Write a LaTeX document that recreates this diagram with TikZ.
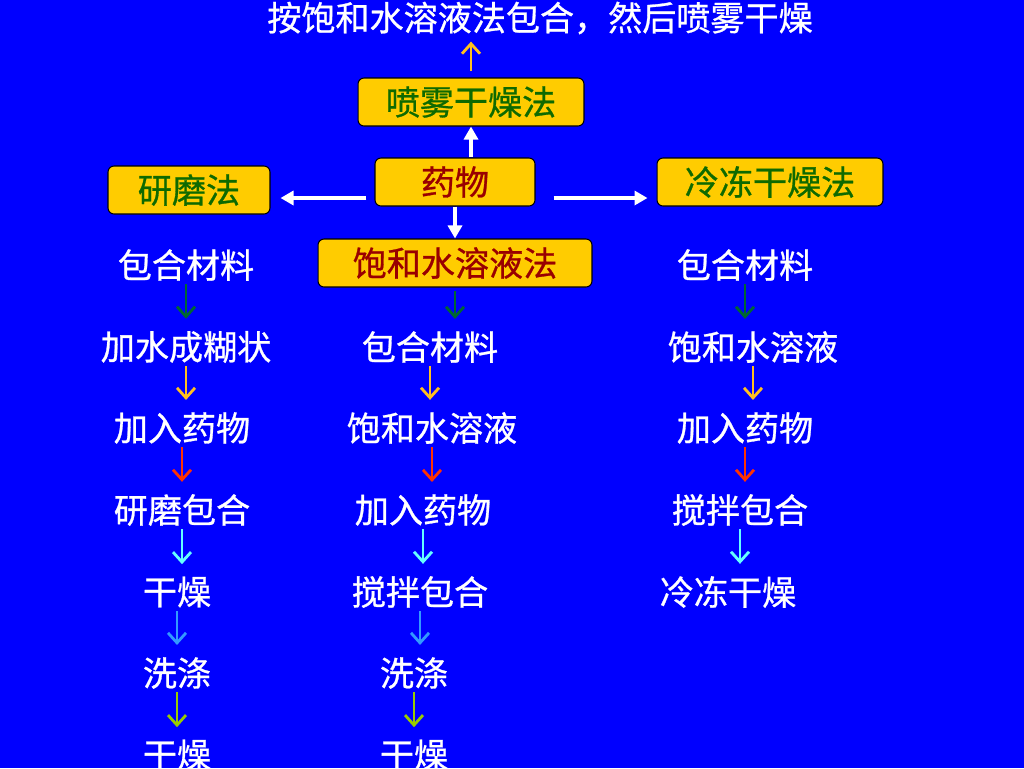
\documentclass[tikz,border=0pt]{standalone}
\usepackage{fontspec}
\setmainfont{Noto Sans CJK SC}[FakeBold=0.8]
\usepackage{xcolor}
\usepackage{tikz}
\usetikzlibrary{arrows.meta,calc}
\definecolor{slide}{HTML}{0000FF}
\definecolor{boxgold}{HTML}{FFCC00}
\definecolor{leafgreen}{HTML}{0E6A00}
\definecolor{drugred}{HTML}{990000}
\definecolor{arrgreen}{HTML}{006633}
\definecolor{arrgold}{HTML}{FFC020}
\definecolor{arrred}{HTML}{FF3300}
\definecolor{arrcyan}{HTML}{66FFFF}
\definecolor{arrblue}{HTML}{3399FF}
\definecolor{arrlime}{HTML}{99CC00}
\newcommand\flowdown[3]{\draw[flow=#1] (#2.south) -- (#2.south |- #3.north);}

\begin{document}
\begin{tikzpicture}[x=0.02cm,y=-0.02cm,every node/.style={font=\fontsize{19.4}{23}\selectfont,text=white,inner sep=0pt},box/.style={draw=black,line width=0.6pt,fill=boxgold,rounded corners=0.12cm,minimum height=0.96cm},flow/.style={draw=#1,line width=1.6pt,-{Straight Barb[length=2mm,width=3.6mm]},shorten <=0.06cm,shorten >=0.24cm},warr/.style={draw=white,line width=2.3pt,-{Triangle[length=2.6mm,width=2.8mm]}}]
\fill[slide] (0,0) rectangle (1024,768);
\useasboundingbox (0,0) rectangle (1024,768);
\node (title) at (540,18) {按饱和水溶液法包合，然后喷雾干燥};
% the four methods round the drug
\node[box,minimum width=4.52cm,text=leafgreen] (spray) at (471,102) {喷雾干燥法};
\node[box,minimum width=3.2cm,text=drugred] (drug) at (455,182) {药物};
\node[box,minimum width=3.24cm,text=leafgreen] (grind) at (189,190) {研磨法};
\node[box,minimum width=4.52cm,text=leafgreen] (freeze) at (770,182) {冷冻干燥法};
\node[box,minimum width=5.48cm,text=drugred] (sat) at (455,263) {饱和水溶液法};
\draw[flow=arrgold,shorten <=0.12cm,shorten >=0.14cm] (spray.north) -- (spray.north |- title.south);
\draw[warr] (spray.south |- drug.north) -- (spray.south);
\draw[warr] ($(drug.west)+(-8,16)$) -- ($(grind.east)+(10,8)$);
\draw[warr] ($(drug.east)+(18,16)$) -- ($(freeze.west)+(-9,16)$);
\draw[warr] (drug) -- (sat);
% grinding
\node (g1) at (186,265) {包合材料};
\node (g2) at (186,347) {加水成糊状};
\node (g3) at (182,428) {加入药物};
\node (g4) at (182,510) {研磨包合};
\node (g5) at (177,592) {干燥};
\node (g6) at (177,673) {洗涤};
\node (g7) at (177,755) {干燥};
% saturated solution
\node (s1) at (430,347) {包合材料};
\node (s2) at (432,428) {饱和水溶液};
\node (s3) at (423,510) {加入药物};
\node (s4) at (420,592) {搅拌包合};
\node (s5) at (414,673) {洗涤};
\node (s6) at (414,755) {干燥};
% freeze drying
\node (f1) at (745,265) {包合材料};
\node (f2) at (753,347) {饱和水溶液};
\node (f3) at (745,428) {加入药物};
\node (f4) at (740,510) {搅拌包合};
\node (f5) at (728,592) {冷冻干燥};
\flowdown{arrgreen}{g1}{g2}\flowdown{arrgold}{g2}{g3}\flowdown{arrred}{g3}{g4}
\flowdown{arrcyan}{g4}{g5}\flowdown{arrblue}{g5}{g6}\flowdown{arrlime}{g6}{g7}
\flowdown{arrgreen}{sat}{s1}\flowdown{arrgold}{s1}{s2}\flowdown{arrred}{s2}{s3}
\flowdown{arrcyan}{s3}{s4}\flowdown{arrblue}{s4}{s5}\flowdown{arrlime}{s5}{s6}
\flowdown{arrgreen}{f1}{f2}\flowdown{arrgold}{f2}{f3}\flowdown{arrred}{f3}{f4}
\flowdown{arrcyan}{f4}{f5}
\end{tikzpicture}
\end{document}
